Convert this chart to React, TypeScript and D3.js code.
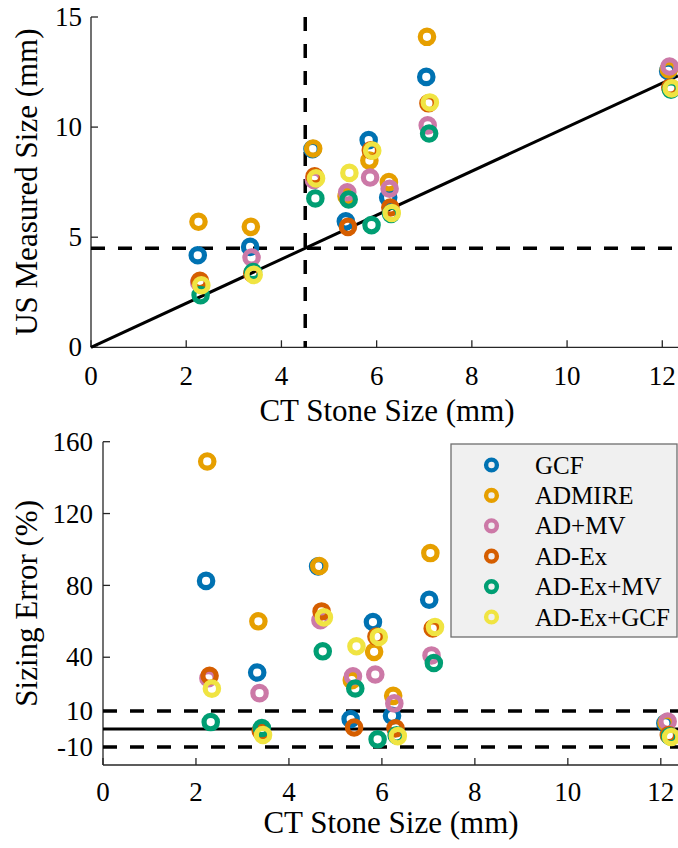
import React from "react";
import * as d3 from "d3";

// Methods, in drawing / legend order
const METHODS = ["GCF", "ADMIRE", "AD+MV", "AD-Ex", "AD-Ex+MV", "AD-Ex+GCF"];
const COLORS = ["#0072B2", "#E69F00", "#CC79A7", "#D55E00", "#009E73", "#F0E442"];

// CT stone sizes (mm), one per stone
const CT_SIZE = [2.28, 3.38, 4.69, 5.39, 5.87, 6.28, 7.08, 12.16];

// Small horizontal spread per method so overlapping rings stay visible
const METHOD_SPREAD = [-0.0625, -0.0375, -0.0125, 0.0125, 0.0375, 0.0625];

// US measured size (mm) per method, per stone
const US_GCF = [4.18, 4.56, 9.0, 5.72, 9.41, 6.8, 12.28, 12.55];
const US_ADMIRE = [5.7, 5.47, 9.03, 6.86, 8.48, 7.5, 14.1, 12.62];
const US_ADMV = [2.95, 4.08, 7.6, 7.04, 7.71, 7.2, 10.08, 12.75];
const US_ADEX = [3.02, 3.35, 7.77, 5.47, 8.95, 6.35, 11.08, 11.8];
const US_ADEXMV = [2.37, 3.42, 6.76, 6.71, 5.55, 6.06, 9.71, 11.7];
const US_ADEXGCF = [2.82, 3.29, 7.67, 7.92, 8.93, 6.1, 11.12, 11.76];

// Sizing error (%) per method, per stone
const ERR_GCF = [82.5, 31.5, 90.6, 5.6, 59.6, 7.4, 72, 3.2];
const ERR_ADMIRE = [149, 60, 90.8, 27.2, 43, 18.5, 98, 3.5];
const ERR_ADMV = [28.3, 20, 60.6, 29.4, 30.4, 14.3, 41, 4.2];
const ERR_ADEX = [29.7, -1, 65.5, 0.9, 51.5, 0.4, 56, -3.3];
const ERR_ADEXMV = [3.9, 0.6, 43.3, 22.6, -5.7, -3.5, 36.8, -4];
const ERR_ADEXGCF = [22.5, -3.3, 62.2, 46.1, 51.3, -3.9, 56.8, -4.4];

const US_VALUES = [US_GCF, US_ADMIRE, US_ADMV, US_ADEX, US_ADEXMV, US_ADEXGCF];
const ERR_VALUES = [ERR_GCF, ERR_ADMIRE, ERR_ADMV, ERR_ADEX, ERR_ADEXMV, ERR_ADEXGCF];

// Axis ticks and reference levels
const X_TICKS = [0, 2, 4, 6, 8, 10, 12];
const TOP_Y_TICKS = [0, 5, 10, 15];
const BOTTOM_Y_TICKS = [-10, 10, 40, 80, 120, 160];
const SIZE_THRESHOLD = 4.5;
const ERROR_BAND = [-10, 10];

const W = 678;
const H = 848;
const FONT = "Times New Roman";
const AXIS_COLOR = "#262626";
const TICK_FONT = 27;
const TITLE_FONT = 31;
const TICK_LEN = 7;
const DASH = "14,13";

type Scale = d3.ScaleLinear<number, number>;

function Axes({ x, y, yTicks, xLabelGap, yLabelGap }: {
  x: Scale; y: Scale; yTicks: number[]; xLabelGap: number; yLabelGap: number;
}) {
  const [x0, x1] = x.range();
  const [yb, yt] = y.range();
  return (
    <g>
      <line x1={x0} x2={x1} y1={yb} y2={yb} stroke={AXIS_COLOR} strokeWidth={1.3} />
      <line x1={x0} x2={x0} y1={yb} y2={yt} stroke={AXIS_COLOR} strokeWidth={1.3} />
      {X_TICKS.map((t) => (
        <g key={"x" + t}>
          <line x1={x(t)} x2={x(t)} y1={yb} y2={yb - TICK_LEN} stroke={AXIS_COLOR} strokeWidth={1.3} />
          <text x={x(t)} y={yb + xLabelGap} textAnchor="middle" fontFamily={FONT} fontSize={TICK_FONT} fill="#000">
            {String(t)}
          </text>
        </g>
      ))}
      {yTicks.map((t) => (
        <g key={"y" + t}>
          <line x1={x0} x2={x0 + TICK_LEN} y1={y(t)} y2={y(t)} stroke={AXIS_COLOR} strokeWidth={1.3} />
          <text x={x0 - yLabelGap} y={y(t)} dy="0.34em" textAnchor="end" fontFamily={FONT} fontSize={TICK_FONT} fill="#000">
            {String(t)}
          </text>
        </g>
      ))}
    </g>
  );
}

function Rings({ x, y, values, spread }: { x: Scale; y: Scale; values: number[][]; spread: number }) {
  return (
    <g>
      {values.map((series, m) => (
        <g key={METHODS[m]}>
          {series.map((v, i) => (
            <circle
              key={i}
              cx={x(CT_SIZE[i] + METHOD_SPREAD[m] * spread)}
              cy={y(v)}
              r={6.7}
              fill="none"
              stroke={COLORS[m]}
              strokeWidth={5.2}
            />
          ))}
        </g>
      ))}
    </g>
  );
}

export default function App() {
  // Top panel: US measured size vs CT size
  const xTop = d3.scaleLinear().domain([0, 12.33]).range([91, W]);
  const yTop = d3.scaleLinear().domain([0, 15]).range([347.3, 17]);
  // Bottom panel: sizing error vs CT size
  const xBot = d3.scaleLinear().domain([0, 12.37]).range([103, W]);
  const yBot = d3.scaleLinear().domain([-20, 160]).range([765, 441.7]);

  const identity = d3.line<number>().x((d) => xTop(d)).y((d) => yTop(d))([0, 12.33]) || "";

  return (
    <svg width={W} height={H} style={{ position: "absolute", left: 0, top: 0 }}>
      <rect x={0} y={0} width={W} height={H} fill="#fff" />
      {/* top panel */}
      <Axes x={xTop} y={yTop} yTicks={TOP_Y_TICKS} xLabelGap={38} yLabelGap={9} />
      <line
        x1={xTop(0)} x2={W} y1={yTop(SIZE_THRESHOLD)} y2={yTop(SIZE_THRESHOLD)}
        stroke="#000" strokeWidth={3.5} strokeDasharray={DASH}
      />
      <line
        x1={xTop(SIZE_THRESHOLD)} x2={xTop(SIZE_THRESHOLD)} y1={yTop(15)} y2={yTop(0)}
        stroke="#000" strokeWidth={3.5} strokeDasharray={DASH}
      />
      <path d={identity} stroke="#000" strokeWidth={3} fill="none" />
      <Rings x={xTop} y={yTop} values={US_VALUES} spread={0.6} />
      <text x={387} y={421} textAnchor="middle" fontFamily={FONT} fontSize={TITLE_FONT}>
        CT Stone Size (mm)
      </text>
      <text
        transform={`translate(37,${(yTop(0) + yTop(15)) / 2}) rotate(-90)`}
        textAnchor="middle" fontFamily={FONT} fontSize={TITLE_FONT}
      >
        US Measured Size (mm)
      </text>

      {/* bottom panel */}
      <Axes x={xBot} y={yBot} yTicks={BOTTOM_Y_TICKS} xLabelGap={36} yLabelGap={10} />
      {ERROR_BAND.map((v) => (
        <line
          key={v}
          x1={xBot(0)} x2={W} y1={yBot(v)} y2={yBot(v)}
          stroke="#000" strokeWidth={3.5} strokeDasharray={DASH}
        />
      ))}
      <line x1={xBot(0)} x2={W} y1={yBot(0)} y2={yBot(0)} stroke="#000" strokeWidth={3} />
      <Rings x={xBot} y={yBot} values={ERR_VALUES} spread={1} />
      <text x={391} y={833} textAnchor="middle" fontFamily={FONT} fontSize={TITLE_FONT}>
        CT Stone Size (mm)
      </text>
      <text
        transform={`translate(37,${(yBot(-20) + yBot(160)) / 2}) rotate(-90)`}
        textAnchor="middle" fontFamily={FONT} fontSize={TITLE_FONT}
      >
        Sizing Error (%)
      </text>

      {/* legend */}
      <g>
        <rect x={451} y={444} width={226} height={193} fill="#f0f0f0" stroke="#6e6e6e" strokeWidth={1.3} />
        {METHODS.map((name, i) => {
          const cy = 465 + i * 30.4;
          return (
            <g key={name}>
              <circle cx={491.5} cy={cy} r={5.4} fill="none" stroke={COLORS[i]} strokeWidth={4.4} />
              <text x={535} y={cy + 8.5} fontFamily={FONT} fontSize={25} fill="#000">
                {name}
              </text>
            </g>
          );
        })}
      </g>
    </svg>
  );
}
